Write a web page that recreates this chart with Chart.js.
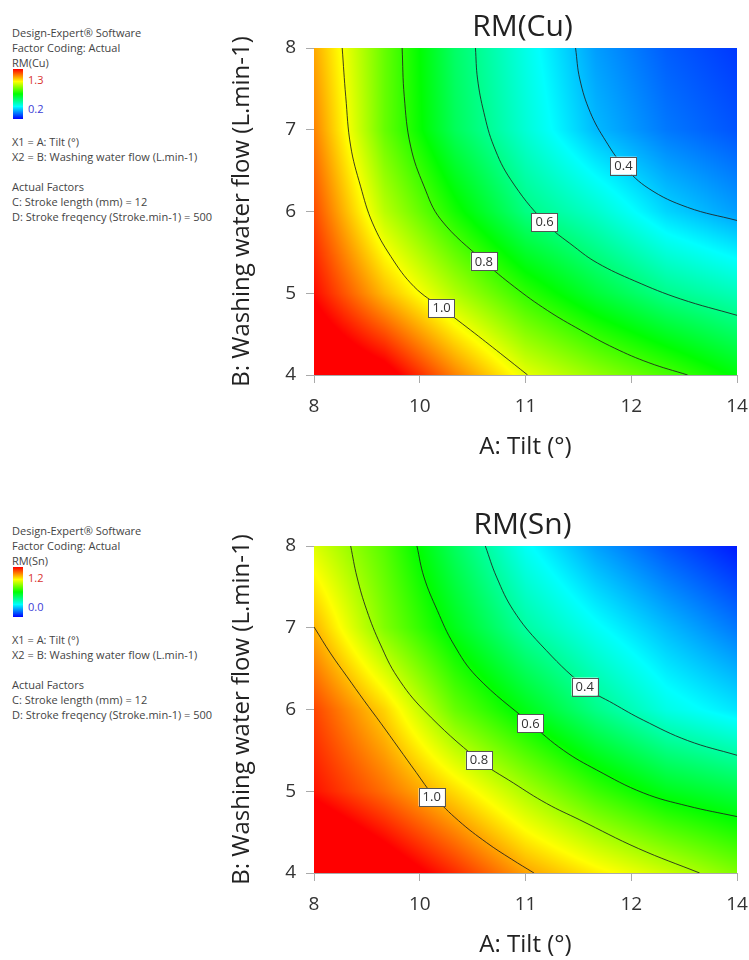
<!DOCTYPE html>
<html lang="en">
<head>
  <meta charset="UTF-8">
  <title>RM(Cu) / RM(Sn) contour plots</title>
  <script src="https://cdn.jsdelivr.net/npm/chart.js"></script>
  <style>
    * { margin: 0; padding: 0; box-sizing: border-box; }
    body {
      width: 749px;
      height: 960px;
      overflow: hidden;
      background: #fff;
      font-family: 'Open Sans', sans-serif;
      position: relative;
    }
    .panel { position: absolute; left: 0; width: 749px; height: 462px; }
    .panel canvas { position: absolute; left: 0; top: 0; }
    /* Design-Expert side notes */
    .info { position: absolute; left: 12px; font-size: 11px; line-height: 15px; color: #444; white-space: nowrap; }
    .bar {
      position: absolute; left: 13px; top: 69px; width: 10px; height: 50px;
      background: linear-gradient(to bottom, #ff0000, #ffff00, #00ff00, #00ffff, #0000ff);
    }
    .bar-label { position: absolute; left: 28px; font-size: 11px; line-height: 15px; }
    .hi { color: #d8322e; }
    .lo { color: #3b3bd6; }
  </style>
</head>
<body>
  <div class="panel" style="top:0">
    <div class="info" style="top:25px">Design-Expert® Software<br>Factor Coding: Actual<br>RM(Cu)</div>
    <div class="bar"></div>
    <div class="bar-label hi" style="top:72px">1.3</div>
    <div class="bar-label lo" style="top:101px">0.2</div>
    <div class="info" style="top:134px">X1 = A: Tilt (°)<br>X2 = B: Washing water flow (L.min-1)<br><br>Actual Factors<br>C: Stroke length (mm) = 12<br>D: Stroke freqency (Stroke.min-1) = 500</div>
    <canvas id="cuChart" width="749" height="462"></canvas>
  </div>

  <div class="panel" style="top:498px">
    <div class="info" style="top:25px">Design-Expert® Software<br>Factor Coding: Actual<br>RM(Sn)</div>
    <div class="bar"></div>
    <div class="bar-label hi" style="top:72px">1.2</div>
    <div class="bar-label lo" style="top:101px">0.0</div>
    <div class="info" style="top:134px">X1 = A: Tilt (°)<br>X2 = B: Washing water flow (L.min-1)<br><br>Actual Factors<br>C: Stroke length (mm) = 12<br>D: Stroke freqency (Stroke.min-1) = 500</div>
    <canvas id="snChart" width="749" height="462"></canvas>
  </div>

  <script>
    // axis ticks (the tilt axis shows rounded labels at 8, 9.5, 11, 12.5, 14)
    const tiltTicks = [8, 9.5, 11, 12.5, 14];
    const tiltTickLabels = ['8', '10', '11', '12', '14'];
    const flowTicks = [4, 5, 6, 7, 8];

    // response surface, rows follow flowGrid (4 -> 8)
    const tiltGrid = [8, 9, 10, 11, 12, 13, 14];
    const flowGrid = [4, 5, 6, 7, 8];
    const cuValues = [
      [1.42, 1.34, 1.16, 1.00, 0.91, 0.83, 0.74],
      [1.29, 1.10, 0.94, 0.80, 0.69, 0.60, 0.55],
      [1.22, 0.95, 0.77, 0.61, 0.53, 0.43, 0.37],
      [1.16, 0.86, 0.655, 0.52, 0.40, 0.33, 0.29],
      [1.12, 0.86, 0.64, 0.50, 0.37, 0.30, 0.26]
    ];
    const snValues = [
      [1.40, 1.28, 1.15, 1.01, 0.92, 0.84, 0.75],
      [1.18, 1.07, 0.94, 0.80, 0.67, 0.57, 0.52],
      [1.12, 0.95, 0.72, 0.575, 0.44, 0.33, 0.27],
      [0.99, 0.75, 0.57, 0.41, 0.31, 0.22, 0.14],
      [0.86, 0.70, 0.49, 0.31, 0.19, 0.10, 0.03]
    ];
    const cuRange = [0.2, 1.3];
    const snRange = [0.0, 1.2];

    // contour lines [tilt, flow]
    const contourLevels = ['1.0', '0.8', '0.6', '0.4'];
    const cuLine10 = [[8.40, 8], [8.45, 7.41], [8.52, 6.80], [8.66, 6.31], [8.83, 5.86], [9.09, 5.45], [9.42, 5.08],
                      [9.81, 4.82], [10.22, 4.55], [10.65, 4.26], [11.03, 4]];
    const cuLine08 = [[9.25, 8], [9.28, 7.41], [9.37, 6.80], [9.56, 6.31], [9.80, 5.90], [10.41, 5.39], [10.84, 5.08],
                      [11.31, 4.79], [11.78, 4.55], [12.26, 4.33], [12.75, 4.15], [13.3, 4]];
    const cuLine06 = [[10.29, 8], [10.32, 7.62], [10.41, 7.21], [10.55, 6.80], [10.79, 6.39], [11.27, 5.87], [11.69, 5.57],
                      [12.02, 5.37], [12.55, 5.15], [13.2, 4.93], [14, 4.73]];
    const cuLine04 = [[11.71, 8], [11.77, 7.62], [11.92, 7.21], [12.14, 6.86], [12.39, 6.56], [12.75, 6.28], [13.3, 6.05], [14, 5.89]];
    const snLine10 = [[8.0, 7.01], [8.24, 6.68], [8.47, 6.40], [8.71, 6.11], [8.95, 5.83], [9.2, 5.53], [9.45, 5.23],
                      [9.7, 4.94], [10.05, 4.64], [10.45, 4.37], [10.8, 4.17], [11.12, 4]];
    const snLine08 = [[8.52, 8], [8.61, 7.62], [8.75, 7.21], [8.94, 6.80], [9.18, 6.40], [9.56, 5.99], [10.34, 5.38],
                      [10.83, 5.10], [11.30, 4.85], [11.77, 4.65], [12.6, 4.30], [13.47, 4]];
    const snLine06 = [[9.46, 8], [9.56, 7.62], [9.75, 7.21], [9.98, 6.80], [10.31, 6.40], [11.07, 5.83], [11.54, 5.50],
                      [12.01, 5.26], [12.67, 4.98], [13.3, 4.82], [14, 4.69]];
    const snLine04 = [[10.43, 8], [10.59, 7.62], [10.83, 7.21], [11.21, 6.80], [11.84, 6.28], [12.25, 6.07], [12.67, 5.87],
                      [13.3, 5.62], [14, 5.44]];

    // where the level labels sit [tilt, flow]
    const cuLabelSpots = [[9.81, 4.82], [10.41, 5.39], [11.27, 5.87], [12.39, 6.56]];
    const snLabelSpots = [[9.67, 4.93], [10.34, 5.38], [11.07, 5.83], [11.84, 6.28]];

    const FONT = "'Open Sans', sans-serif";
    Chart.defaults.font.family = FONT;

    // blue -> cyan -> green -> yellow -> red
    const stops = [[0, [0, 0, 255]], [0.25, [0, 255, 255]], [0.5, [0, 255, 0]], [0.75, [255, 255, 0]], [1, [255, 0, 0]]];
    function colorFor(t) {
      t = Math.max(0, Math.min(1, t));
      for (let k = 1; k < stops.length; k++) {
        if (t <= stops[k][0]) {
          const a = stops[k - 1], b = stops[k];
          const f = (t - a[0]) / (b[0] - a[0]);
          return [0, 1, 2].map(c => a[1][c] + (b[1][c] - a[1][c]) * f);
        }
      }
      return stops[stops.length - 1][1];
    }

    function gridIndex(arr, v) {
      let i = 0;
      while (i < arr.length - 2 && v > arr[i + 1]) i++;
      const f = Math.max(0, Math.min(1, (v - arr[i]) / (arr[i + 1] - arr[i])));
      return [i, f];
    }

    function fieldAt(values, x, y) {
      const [i, fx] = gridIndex(tiltGrid, x);
      const [j, fy] = gridIndex(flowGrid, y);
      const a = values[j][i] * (1 - fx) + values[j][i + 1] * fx;
      const b = values[j + 1][i] * (1 - fx) + values[j + 1][i + 1] * fx;
      return a * (1 - fy) + b * fy;
    }

    function surfacePlugin(values, range, labelSpots, title) {
      return {
        id: 'surface',
        beforeDatasetsDraw(chart) {
          const { ctx, chartArea, scales } = chart;
          const left = Math.round(chartArea.left), top = Math.round(chartArea.top);
          const w = Math.round(chartArea.right) - left, h = Math.round(chartArea.bottom) - top;
          const img = ctx.createImageData(w, h);
          for (let j = 0; j < h; j++) {
            const fy = scales.y.getValueForPixel(top + j + 0.5);
            for (let i = 0; i < w; i++) {
              const fx = scales.x.getValueForPixel(left + i + 0.5);
              const c = colorFor((fieldAt(values, fx, fy) - range[0]) / (range[1] - range[0]));
              const k = (j * w + i) * 4;
              img.data[k] = c[0]; img.data[k + 1] = c[1]; img.data[k + 2] = c[2]; img.data[k + 3] = 255;
            }
          }
          ctx.putImageData(img, left, top);
        },
        afterDatasetsDraw(chart) {
          const { ctx, scales } = chart;
          ctx.save();
          ctx.font = '13px ' + FONT;
          ctx.textAlign = 'center';
          ctx.textBaseline = 'middle';
          labelSpots.forEach((p, i) => {
            const px = scales.x.getPixelForValue(p[0]);
            const py = scales.y.getPixelForValue(p[1]);
            const tw = ctx.measureText(contourLevels[i]).width + 8;
            ctx.fillStyle = '#fff';
            ctx.fillRect(px - tw / 2, py - 9, tw, 18);
            ctx.strokeStyle = '#555';
            ctx.lineWidth = 1;
            ctx.strokeRect(Math.round(px - tw / 2) + 0.5, Math.round(py - 9) + 0.5, Math.round(tw), 18);
            ctx.fillStyle = '#333';
            ctx.fillText(contourLevels[i], px, py + 0.5);
          });
          ctx.restore();
        },
        afterDraw(chart) {
          const { ctx, chartArea } = chart;
          ctx.save();
          ctx.font = '30px ' + FONT;
          ctx.fillStyle = '#222';
          ctx.textAlign = 'center';
          ctx.textBaseline = 'alphabetic';
          ctx.fillText(title, (chartArea.left + chartArea.right) / 2 - 3, 36);
          ctx.restore();
        }
      };
    }

    function makeChart(id, values, range, lines, labelSpots, title) {
      new Chart(document.getElementById(id), {
        type: 'scatter',
        data: {
          datasets: lines.map((line, i) => ({
            label: contourLevels[i],
            data: line.map(p => ({ x: p[0], y: p[1] })),
            showLine: true,
            pointRadius: 0,
            borderColor: 'rgba(30, 30, 30, 0.85)',
            borderWidth: 1,
            tension: 0.4
          }))
        },
        options: {
          responsive: false,
          animation: false,
          events: [],
          layout: { padding: { left: 220, top: 48, right: 12, bottom: 0 } },
          plugins: { legend: { display: false }, tooltip: { enabled: false } },
          scales: {
            x: {
              type: 'linear', min: 8, max: 14,
              afterBuildTicks: s => { s.ticks = tiltTicks.map(v => ({ value: v })); },
              afterFit: s => { s.height = 87; s.paddingLeft = 0; s.paddingRight = 0; },
              ticks: {
                callback: v => tiltTickLabels[tiltTicks.indexOf(v)],
                font: { size: 19 }, color: '#333', padding: 12, maxRotation: 0
              },
              grid: { drawOnChartArea: false, tickLength: 8, color: '#aaa' },
              border: { color: '#aaa' },
              title: { display: true, text: 'A: Tilt (°)', font: { size: 24 }, color: '#222', padding: { top: 0, bottom: 0 } }
            },
            y: {
              type: 'linear', min: 4, max: 8,
              afterBuildTicks: s => { s.ticks = flowTicks.map(v => ({ value: v })); },
              afterFit: s => { s.width = 94; s.paddingTop = 0; s.paddingBottom = 0; },
              ticks: { font: { size: 19 }, color: '#333', padding: 10 },
              grid: { drawOnChartArea: false, tickLength: 8, color: '#aaa' },
              border: { color: '#aaa' },
              title: { display: true, text: 'B: Washing water flow (L.min-1)', font: { size: 24 }, color: '#222', padding: { top: 8, bottom: 0 } }
            }
          }
        },
        plugins: [surfacePlugin(values, range, labelSpots, title)]
      });
    }

    makeChart('cuChart', cuValues, cuRange, [cuLine10, cuLine08, cuLine06, cuLine04], cuLabelSpots, 'RM(Cu)');
    makeChart('snChart', snValues, snRange, [snLine10, snLine08, snLine06, snLine04], snLabelSpots, 'RM(Sn)');
  </script>
</body>
</html>
